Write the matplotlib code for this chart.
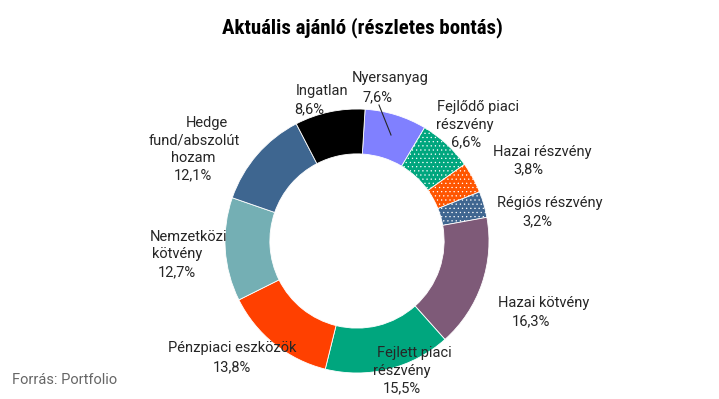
import matplotlib.pyplot as plt
from matplotlib.lines import Line2D

plt.rcParams['font.family'] = ['Roboto', 'DejaVu Sans']
plt.rcParams['hatch.linewidth'] = 0.4

# data, clockwise from the top
categories = ["Nyersanyag", "Fejlődő piaci részvény", "Hazai részvény", "Régiós részvény",
              "Hazai kötvény", "Fejlett piaci részvény", "Pénzpiaci eszközök",
              "Nemzetközi kötvény", "Hedge fund/abszolút hozam", "Ingatlan"]
values = [7.6, 6.6, 3.8, 3.2, 16.3, 15.5, 13.8, 12.7, 12.1, 8.6]
colors = ["#8080FF", "#00A67E", "#FF5500", "#3F6690", "#7E5A78",
          "#00A67E", "#FF4000", "#74AFB4", "#3E6690", "#000000"]
hatches = [None, "....", "....", "....", None, None, None, None, None, None]

# label lines: (text, x px, y px)
label_lines = [
    [("Nyersanyag", 390, 78), ("{}", 378, 97)],
    [("Fejlődő piaci", 478, 107), ("részvény", 465, 125), ("{}", 466, 142)],
    [("Hazai részvény", 542, 152), ("{}", 528, 169)],
    [("Régiós részvény", 550, 203), ("{}", 537, 221)],
    [("Hazai kötvény", 544, 303), ("{}", 531, 321)],
    [("Fejlett piaci", 414, 353), ("részvény", 402, 371), ("{}", 402, 388)],
    [("Pénzpiaci eszközök", 232, 348), ("{}", 232, 367)],
    [("Nemzetközi", 189, 237), ("kötvény", 177, 254), ("{}", 177, 272)],
    [("Hedge", 207, 123), ("fund/abszolút", 194, 141), ("hozam", 193, 158), ("{}", 193, 175)],
    [("Ingatlan", 322, 91), ("{}", 309, 109)],
]

W, H = 719, 399
fig = plt.figure(figsize=(W / 100, H / 100), dpi=100)

cx, cy, r = 357, 241, 132
ax = fig.add_axes([(cx - r) / W, (H - cy - r) / H, 2 * r / W, 2 * r / H])
wedges, _ = ax.pie(values, colors=colors, startangle=86.5, counterclock=False,
                   radius=1, wedgeprops=dict(width=0.34, edgecolor="white", linewidth=0.6))
for w, h in zip(wedges, hatches):
    if h:
        w.set_hatch(h)
ax.set_xlim(-1, 1)
ax.set_ylim(-1, 1)
ax.axis("off")

for lines, v in zip(label_lines, values):
    for txt, x, y in lines:
        s = txt.format(f"{v:.1f}".replace(".", ",") + "%")
        fig.text(x / W, 1 - y / H, s, ha="center", va="center",
                 fontsize=10.5, color="#262626", zorder=5)

# leader line for Nyersanyag
fig.add_artist(Line2D([379 / W, 391 / W], [1 - 105 / H, 1 - 135 / H],
                      color="#262626", linewidth=0.8))

fig.text(362 / W, 1 - 33 / H, "Aktuális ajánló (részletes bontás)", ha="center", va="baseline",
         fontsize=15, fontweight="bold", color="black",
         family=['Roboto Condensed', 'Roboto', 'DejaVu Sans'])
fig.text(12 / W, 1 - 380 / H, "Forrás: Portfolio", ha="left", va="center",
         fontsize=10.5, color="#666666")

fig.savefig("out.png", dpi=100)
